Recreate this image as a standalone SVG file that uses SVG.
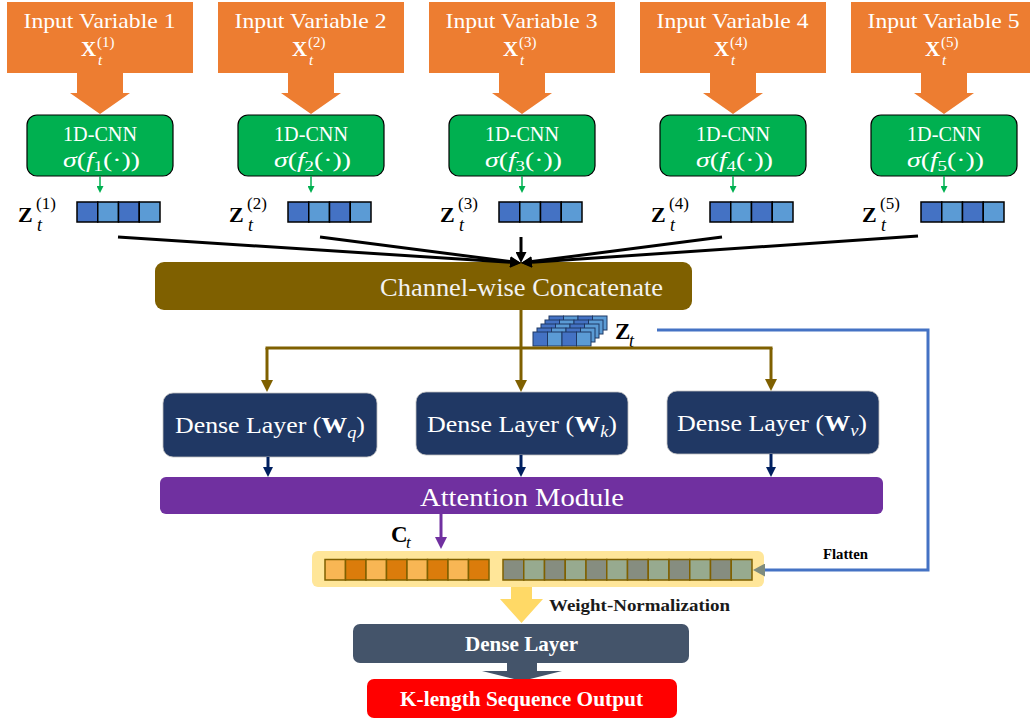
<svg xmlns="http://www.w3.org/2000/svg" width="1030" height="723" viewBox="0 0 1030 723">
<style>
.t{font-family:"Liberation Serif","DejaVu Serif",serif}
.w{fill:#FFFFFF}
.k{fill:#000000}
.b{font-weight:bold}
.i{font-style:italic}
.inbox{fill:#ED7D31}
.inarrow{fill:#ED7D31}
.cnn{fill:#00B050;stroke:#000;stroke-width:1.2}
.zd{fill:#4472C4;stroke:#000;stroke-width:1.5}
.zl{fill:#5B9BD5;stroke:#000;stroke-width:1.5}
.sd{fill:#4472C4;stroke:#1F3864;stroke-width:1}
.sl{fill:#5B9BD5;stroke:#1F3864;stroke-width:1}
.od{fill:#DB7C0B;stroke:#7F6000;stroke-width:1.5}
.ol{fill:#F8B654;stroke:#7F6000;stroke-width:1.5}
.gd{fill:#868D80;stroke:#7F6000;stroke-width:1.5}
.gl{fill:#97AA8F;stroke:#7F6000;stroke-width:1.5}
.dense{fill:#203864;stroke:#BFBFBF;stroke-width:0.8}
.blk{stroke:#000;stroke-width:3;fill:none}
.grn{stroke:#00B050;stroke-width:1.5;fill:none}
.brn{stroke:#7F6000;stroke-width:3;fill:none}
.nvy{stroke:#002060;stroke-width:3;fill:none}
.pur{stroke:#7030A0;stroke-width:3;fill:none}
.blu{stroke:#4472C4;stroke-width:3;fill:none}
</style>
<defs>
<marker id="mBlk" markerUnits="userSpaceOnUse" markerWidth="11" markerHeight="11" viewBox="0 0 11 11" refX="0" refY="5.5" orient="auto"><path d="M0,0 L11,5.5 L0,11 z" fill="#000"/></marker>
<marker id="mGrn" markerUnits="userSpaceOnUse" markerWidth="7" markerHeight="7" viewBox="0 0 7 7" refX="0" refY="3.5" orient="auto"><path d="M0,0 L7,3.5 L0,7 z" fill="#00B050"/></marker>
<marker id="mBrn" markerUnits="userSpaceOnUse" markerWidth="12" markerHeight="12" viewBox="0 0 12 12" refX="0" refY="6" orient="auto"><path d="M0,0 L12,6 L0,12 z" fill="#7F6000"/></marker>
<marker id="mNvy" markerUnits="userSpaceOnUse" markerWidth="10" markerHeight="10" viewBox="0 0 10 10" refX="0" refY="5" orient="auto"><path d="M0,0 L10,5 L0,10 z" fill="#002060"/></marker>
<marker id="mPur" markerUnits="userSpaceOnUse" markerWidth="12" markerHeight="12" viewBox="0 0 12 12" refX="0" refY="6" orient="auto"><path d="M0,0 L12,6 L0,12 z" fill="#7030A0"/></marker>
<marker id="mGry" markerUnits="userSpaceOnUse" markerWidth="12" markerHeight="13" viewBox="0 0 12 13" refX="0" refY="6.5" orient="auto"><path d="M0,0 L12,6.5 L0,13 z" fill="#7F8C7E"/></marker>
</defs>
<rect width="1030" height="723" fill="#FFFFFF"/>

<!-- Input variables -->
<g id="input1">
<rect class="inbox" x="7" y="2" width="186" height="71"/>
<text class="t w" x="23.5" y="28" font-size="21" textLength="152" lengthAdjust="spacingAndGlyphs">Input Variable 1</text>
<text class="t w" font-size="21"><tspan class="b" x="81" y="56">X</tspan><tspan x="97" y="47" font-size="15">(1)</tspan><tspan class="i" x="98" y="65" font-size="15">t</tspan></text>
</g>
<g id="input2">
<rect class="inbox" x="218" y="2" width="186" height="71"/>
<text class="t w" x="234.5" y="28" font-size="21" textLength="152" lengthAdjust="spacingAndGlyphs">Input Variable 2</text>
<text class="t w" font-size="21"><tspan class="b" x="292" y="56">X</tspan><tspan x="308" y="47" font-size="15">(2)</tspan><tspan class="i" x="309" y="65" font-size="15">t</tspan></text>
</g>
<g id="input3">
<rect class="inbox" x="429" y="2" width="186" height="71"/>
<text class="t w" x="445.5" y="28" font-size="21" textLength="152" lengthAdjust="spacingAndGlyphs">Input Variable 3</text>
<text class="t w" font-size="21"><tspan class="b" x="503" y="56">X</tspan><tspan x="519" y="47" font-size="15">(3)</tspan><tspan class="i" x="520" y="65" font-size="15">t</tspan></text>
</g>
<g id="input4">
<rect class="inbox" x="640" y="2" width="186" height="71"/>
<text class="t w" x="656.5" y="28" font-size="21" textLength="152" lengthAdjust="spacingAndGlyphs">Input Variable 4</text>
<text class="t w" font-size="21"><tspan class="b" x="714" y="56">X</tspan><tspan x="730" y="47" font-size="15">(4)</tspan><tspan class="i" x="731" y="65" font-size="15">t</tspan></text>
</g>
<g id="input5">
<rect class="inbox" x="851" y="2" width="186" height="71"/>
<text class="t w" x="867.5" y="28" font-size="21" textLength="152" lengthAdjust="spacingAndGlyphs">Input Variable 5</text>
<text class="t w" font-size="21"><tspan class="b" x="925" y="56">X</tspan><tspan x="941" y="47" font-size="15">(5)</tspan><tspan class="i" x="942" y="65" font-size="15">t</tspan></text>
</g>

<!-- Block arrows input -> CNN -->
<g id="inarrows">
<polygon class="inarrow" points="77,72 123,72 123,93 130,93 100,114 70,93 77,93"/>
<polygon class="inarrow" points="288,72 334,72 334,93 341,93 311,114 281,93 288,93"/>
<polygon class="inarrow" points="499,72 545,72 545,93 552,93 522,114 492,93 499,93"/>
<polygon class="inarrow" points="710,72 756,72 756,93 763,93 733,114 703,93 710,93"/>
<polygon class="inarrow" points="921,72 967,72 967,93 974,93 944,114 914,93 921,93"/>
</g>

<!-- CNN nodes -->
<g id="cnn1">
<rect class="cnn" x="27" y="115" width="146" height="61" rx="10"/>
<text class="t w" x="63" y="141" font-size="21" textLength="74" lengthAdjust="spacingAndGlyphs">1D-CNN</text>
<text class="t w" x="63" y="167" font-size="22" textLength="77" lengthAdjust="spacingAndGlyphs"><tspan class="i">σ</tspan>(<tspan class="i">f</tspan><tspan font-size="15" dy="4">1</tspan><tspan dy="-4">(·))</tspan></text>
</g>
<g id="cnn2">
<rect class="cnn" x="238" y="115" width="146" height="61" rx="10"/>
<text class="t w" x="274" y="141" font-size="21" textLength="74" lengthAdjust="spacingAndGlyphs">1D-CNN</text>
<text class="t w" x="274" y="167" font-size="22" textLength="77" lengthAdjust="spacingAndGlyphs"><tspan class="i">σ</tspan>(<tspan class="i">f</tspan><tspan font-size="15" dy="4">2</tspan><tspan dy="-4">(·))</tspan></text>
</g>
<g id="cnn3">
<rect class="cnn" x="449" y="115" width="146" height="61" rx="10"/>
<text class="t w" x="485" y="141" font-size="21" textLength="74" lengthAdjust="spacingAndGlyphs">1D-CNN</text>
<text class="t w" x="485" y="167" font-size="22" textLength="77" lengthAdjust="spacingAndGlyphs"><tspan class="i">σ</tspan>(<tspan class="i">f</tspan><tspan font-size="15" dy="4">3</tspan><tspan dy="-4">(·))</tspan></text>
</g>
<g id="cnn4">
<rect class="cnn" x="660" y="115" width="146" height="61" rx="10"/>
<text class="t w" x="696" y="141" font-size="21" textLength="74" lengthAdjust="spacingAndGlyphs">1D-CNN</text>
<text class="t w" x="696" y="167" font-size="22" textLength="77" lengthAdjust="spacingAndGlyphs"><tspan class="i">σ</tspan>(<tspan class="i">f</tspan><tspan font-size="15" dy="4">4</tspan><tspan dy="-4">(·))</tspan></text>
</g>
<g id="cnn5">
<rect class="cnn" x="871" y="115" width="146" height="61" rx="10"/>
<text class="t w" x="907" y="141" font-size="21" textLength="74" lengthAdjust="spacingAndGlyphs">1D-CNN</text>
<text class="t w" x="907" y="167" font-size="22" textLength="77" lengthAdjust="spacingAndGlyphs"><tspan class="i">σ</tspan>(<tspan class="i">f</tspan><tspan font-size="15" dy="4">5</tspan><tspan dy="-4">(·))</tspan></text>
</g>

<!-- Feature vectors Z -->
<g id="z1">
<text class="t k" font-size="22"><tspan class="b" x="18" y="222">Z</tspan><tspan x="36" y="209" font-size="17">(1)</tspan><tspan class="i" x="37" y="231" font-size="18">t</tspan></text>
<rect class="zd" x="77" y="202" width="20.75" height="20"/><rect class="zl" x="97.75" y="202" width="20.75" height="20"/><rect class="zd" x="118.5" y="202" width="20.75" height="20"/><rect class="zl" x="139.25" y="202" width="20.75" height="20"/>
</g>
<g id="z2">
<text class="t k" font-size="22"><tspan class="b" x="229" y="222">Z</tspan><tspan x="247" y="209" font-size="17">(2)</tspan><tspan class="i" x="248" y="231" font-size="18">t</tspan></text>
<rect class="zd" x="288" y="202" width="20.75" height="20"/><rect class="zl" x="308.75" y="202" width="20.75" height="20"/><rect class="zd" x="329.5" y="202" width="20.75" height="20"/><rect class="zl" x="350.25" y="202" width="20.75" height="20"/>
</g>
<g id="z3">
<text class="t k" font-size="22"><tspan class="b" x="440" y="222">Z</tspan><tspan x="458" y="209" font-size="17">(3)</tspan><tspan class="i" x="459" y="231" font-size="18">t</tspan></text>
<rect class="zd" x="499" y="202" width="20.75" height="20"/><rect class="zl" x="519.75" y="202" width="20.75" height="20"/><rect class="zd" x="540.5" y="202" width="20.75" height="20"/><rect class="zl" x="561.25" y="202" width="20.75" height="20"/>
</g>
<g id="z4">
<text class="t k" font-size="22"><tspan class="b" x="651" y="222">Z</tspan><tspan x="669" y="209" font-size="17">(4)</tspan><tspan class="i" x="670" y="231" font-size="18">t</tspan></text>
<rect class="zd" x="710" y="202" width="20.75" height="20"/><rect class="zl" x="730.75" y="202" width="20.75" height="20"/><rect class="zd" x="751.5" y="202" width="20.75" height="20"/><rect class="zl" x="772.25" y="202" width="20.75" height="20"/>
</g>
<g id="z5">
<text class="t k" font-size="22"><tspan class="b" x="862" y="222">Z</tspan><tspan x="880" y="209" font-size="17">(5)</tspan><tspan class="i" x="881" y="231" font-size="18">t</tspan></text>
<rect class="zd" x="921" y="202" width="20.75" height="20"/><rect class="zl" x="941.75" y="202" width="20.75" height="20"/><rect class="zd" x="962.5" y="202" width="20.75" height="20"/><rect class="zl" x="983.25" y="202" width="20.75" height="20"/>
</g>

<!-- Concatenate -->
<g id="concat">
<rect x="155" y="262" width="537" height="48" rx="9" fill="#7F6000"/>
<text class="t" x="380" y="296" font-size="25" textLength="283" lengthAdjust="spacingAndGlyphs" fill="#F2F2F2">Channel-wise Concatenate</text>
</g>

<!-- Z_t stack -->
<g id="zstack">
<rect class="sd" x="549" y="316" width="14.5" height="14"/><rect class="sl" x="563.5" y="316" width="14.5" height="14"/><rect class="sd" x="578" y="316" width="14.5" height="14"/><rect class="sl" x="592.5" y="316" width="14.5" height="14"/>
<rect class="sd" x="545" y="320" width="14.5" height="14"/><rect class="sl" x="559.5" y="320" width="14.5" height="14"/><rect class="sd" x="574" y="320" width="14.5" height="14"/><rect class="sl" x="588.5" y="320" width="14.5" height="14"/>
<rect class="sd" x="541" y="324" width="14.5" height="14"/><rect class="sl" x="555.5" y="324" width="14.5" height="14"/><rect class="sd" x="570" y="324" width="14.5" height="14"/><rect class="sl" x="584.5" y="324" width="14.5" height="14"/>
<rect class="sd" x="537" y="328" width="14.5" height="14"/><rect class="sl" x="551.5" y="328" width="14.5" height="14"/><rect class="sd" x="566" y="328" width="14.5" height="14"/><rect class="sl" x="580.5" y="328" width="14.5" height="14"/>
<rect class="sd" x="533" y="332" width="14.5" height="14"/><rect class="sl" x="547.5" y="332" width="14.5" height="14"/><rect class="sd" x="562" y="332" width="14.5" height="14"/><rect class="sl" x="576.5" y="332" width="14.5" height="14"/>
<text class="t k" font-size="23"><tspan class="b" x="615" y="339">Z</tspan><tspan class="i" x="629" y="347" font-size="18">t</tspan></text>
</g>

<!-- Dense layers Q K V -->
<g id="denseq">
<rect class="dense" x="163" y="393" width="214" height="64" rx="10"/>
<text class="t w" x="175" y="433" font-size="24" textLength="190" lengthAdjust="spacingAndGlyphs">Dense Layer (<tspan class="b">W</tspan><tspan class="i" font-size="17" dy="5">q</tspan><tspan dy="-5">)</tspan></text>
</g>
<g id="densek">
<rect class="dense" x="416" y="392" width="212" height="63" rx="10"/>
<text class="t w" x="427" y="432" font-size="24" textLength="190" lengthAdjust="spacingAndGlyphs">Dense Layer (<tspan class="b">W</tspan><tspan class="i" font-size="17" dy="5">k</tspan><tspan dy="-5">)</tspan></text>
</g>
<g id="densev">
<rect class="dense" x="667" y="391" width="212" height="63" rx="10"/>
<text class="t w" x="677" y="431" font-size="24" textLength="190" lengthAdjust="spacingAndGlyphs">Dense Layer (<tspan class="b">W</tspan><tspan class="i" font-size="17" dy="5">v</tspan><tspan dy="-5">)</tspan></text>
</g>

<!-- Attention -->
<g id="attention">
<rect x="160" y="477" width="723" height="37" rx="6" fill="#7030A0"/>
<text class="t w" x="420" y="506" font-size="26" textLength="204" lengthAdjust="spacingAndGlyphs">Attention Module</text>
</g>

<!-- C_t label -->
<g id="ctlabel">
<text class="t k" font-size="23"><tspan class="b" x="391" y="542">C</tspan><tspan class="i" x="406" y="548" font-size="17">t</tspan></text>
</g>

<!-- Combined vector -->
<g id="combined">
<rect x="312" y="551" width="452" height="36" rx="6" fill="#FFE699"/>
<rect class="ol" x="325" y="559.5" width="20.5" height="20.5"/><rect class="od" x="345.5" y="559.5" width="20.5" height="20.5"/><rect class="ol" x="366" y="559.5" width="20.5" height="20.5"/><rect class="od" x="386.5" y="559.5" width="20.5" height="20.5"/>
<rect class="ol" x="407" y="559.5" width="20.5" height="20.5"/><rect class="od" x="427.5" y="559.5" width="20.5" height="20.5"/><rect class="ol" x="448" y="559.5" width="20.5" height="20.5"/><rect class="od" x="468.5" y="559.5" width="20.5" height="20.5"/>
<rect class="gd" x="503" y="559.5" width="20.75" height="20.5"/><rect class="gl" x="523.75" y="559.5" width="20.75" height="20.5"/><rect class="gd" x="544.5" y="559.5" width="20.75" height="20.5"/><rect class="gl" x="565.25" y="559.5" width="20.75" height="20.5"/>
<rect class="gd" x="586" y="559.5" width="20.75" height="20.5"/><rect class="gl" x="606.75" y="559.5" width="20.75" height="20.5"/><rect class="gd" x="627.5" y="559.5" width="20.75" height="20.5"/><rect class="gl" x="648.25" y="559.5" width="20.75" height="20.5"/>
<rect class="gd" x="669" y="559.5" width="20.75" height="20.5"/><rect class="gl" x="689.75" y="559.5" width="20.75" height="20.5"/><rect class="gd" x="710.5" y="559.5" width="20.75" height="20.5"/><rect class="gl" x="731.25" y="559.5" width="20.75" height="20.5"/>
</g>

<!-- Weight normalization arrow -->
<g id="wnorm">
<polygon points="511,587 532,587 532,599 543,599 521.5,623 500,599 511,599" fill="#FFD966"/>
<text class="t b" x="549" y="611" font-size="17" textLength="181" lengthAdjust="spacingAndGlyphs" fill="#1A1A1A">Weight-Normalization</text>
</g>

<!-- Dense final -->
<g id="densefinal">
<rect x="353" y="624" width="336" height="39" rx="7" fill="#44546A"/>
<text class="t w b" x="465" y="651" font-size="21" textLength="113" lengthAdjust="spacingAndGlyphs">Dense Layer</text>
</g>
<g id="outarrow">
<polygon points="507,662 537,662 537,671 562,671 522,681 482,671 507,671" fill="#44546A"/>
</g>
<g id="output">
<rect x="367" y="679" width="310" height="39" rx="7" fill="#FF0000"/>
<text class="t w b" x="400" y="706" font-size="21" textLength="243" lengthAdjust="spacingAndGlyphs">K-length Sequence Output</text>
</g>

<!-- Flatten label -->
<g id="flattenlabel">
<text class="t b k" x="823" y="559" font-size="14" textLength="45" lengthAdjust="spacingAndGlyphs">Flatten</text>
</g>

<!-- Connectors -->
<g id="connectors">
<path class="grn" d="M100,176 V186" marker-end="url(#mGrn)"/>
<path class="grn" d="M311,176 V186" marker-end="url(#mGrn)"/>
<path class="grn" d="M522,176 V186" marker-end="url(#mGrn)"/>
<path class="grn" d="M733,176 V186" marker-end="url(#mGrn)"/>
<path class="grn" d="M944,176 V186" marker-end="url(#mGrn)"/>
<path class="blk" d="M118,237 L510,262.3" marker-end="url(#mBlk)"/>
<path class="blk" d="M320,237 L510.1,261.6" marker-end="url(#mBlk)"/>
<path class="blk" d="M521,237 V252" marker-end="url(#mBlk)"/>
<path class="blk" d="M722,237 L531.9,261.6" marker-end="url(#mBlk)"/>
<path class="blk" d="M918,236 L532,262.3" marker-end="url(#mBlk)"/>
<path class="brn" d="M521,310 V348 M265.5,348 H772.5"/>
<path class="brn" d="M267,348 V380" marker-end="url(#mBrn)"/>
<path class="brn" d="M521,348 V380" marker-end="url(#mBrn)"/>
<path class="brn" d="M771,348 V379" marker-end="url(#mBrn)"/>
<path class="nvy" d="M268,457 V467" marker-end="url(#mNvy)"/>
<path class="nvy" d="M521,455 V467" marker-end="url(#mNvy)"/>
<path class="nvy" d="M771,454 V467" marker-end="url(#mNvy)"/>
<path class="pur" d="M441,514 V537" marker-end="url(#mPur)"/>
<path class="blu" d="M657,330 H928 V570 H765" marker-end="url(#mGry)"/>
</g>
</svg>
